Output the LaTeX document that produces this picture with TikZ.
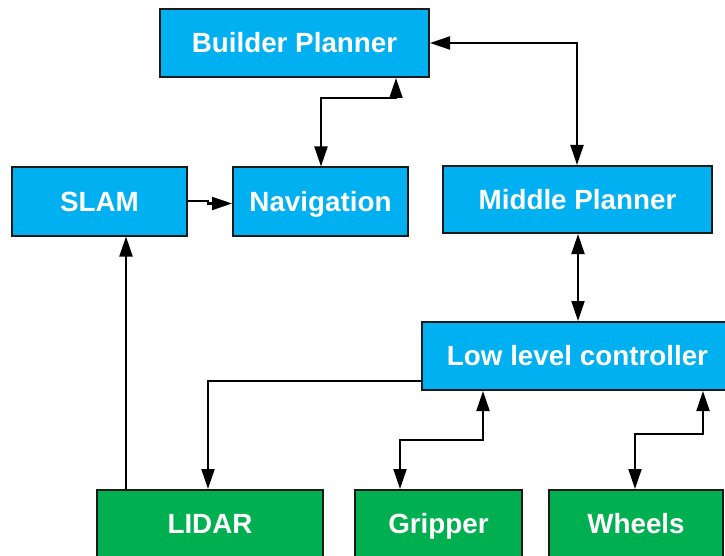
\documentclass[tikz,border=0pt]{standalone}
\usepackage{fontspec}
\setmainfont{Liberation Sans}
\usetikzlibrary{arrows.meta}
\definecolor{boxblue}{HTML}{00B0F0}
\definecolor{boxgreen}{HTML}{00B050}
\definecolor{edge}{HTML}{1A1A1A}
\tikzset{
  blk/.style={draw=edge, line width=2pt, text=white,
    font=\fontsize{27.8}{30}\selectfont\bfseries, inner sep=0pt,
    text height=19.8pt, text depth=0pt},
  soft/.style={blk, fill=boxblue},
  hard/.style={blk, fill=boxgreen},
  link/.style={line width=2pt, draw=black, -{Triangle[length=20pt,width=13pt]}},
  both/.style={link, {Triangle[length=20pt,width=13pt]}-{Triangle[length=20pt,width=13pt]}},
}
\begin{document}
\begin{tikzpicture}[x=1pt,y=-1pt]
\useasboundingbox (0,0) rectangle (725,556);
\clip (0,0) rectangle (725,556);
\fill[white] (0,0) rectangle (725,556);

% planning layer
\node[soft, minimum width=269pt, minimum height=68pt] (builder) at (294.5,43) {Builder Planner};
\node[soft, minimum width=175pt, minimum height=68pt] (slam)    at (99.5,201.5) {SLAM};
\node[soft, minimum width=175pt, minimum height=68pt] (nav)     at (320.5,201.5) {Navigation};
\node[soft, minimum width=269pt, minimum height=67pt] (middle)  at (577.5,199.5) {Middle Planner};
\node[soft, minimum width=311pt, minimum height=68pt] (llc)     at (577.5,356) {Low level controller};

% hardware layer
\node[hard, minimum width=226pt, minimum height=68pt] (lidar)   at (210,524) {LIDAR};
\node[hard, minimum width=167pt, minimum height=68pt] (gripper) at (438.5,524) {Gripper};
\node[hard, minimum width=174pt, minimum height=68pt] (wheels)  at (636,524) {Wheels};

% helper points
\coordinate (bnA) at (321,98);
\coordinate (bnB) at (396,98);
\coordinate (bmA) at (577,43);
\coordinate (snA) at (208,201.5);
\coordinate (snB) at (208,203.5);
\coordinate (llA) at (208,381);
\coordinate (lgA) at (483,440);
\coordinate (lgB) at (400,440);
\coordinate (lwA) at (703,434);
\coordinate (lwB) at (635,434);

% connectors
\draw[both] (builder.east |- bmA) -- (bmA) -- (middle.north -| bmA);
\draw[both] (nav.north -| bnA) -- (bnA) -- (bnB) -- (builder.south -| bnB);
\draw[link] (slam.east |- snA) -- (snA) -- (snB) -- (nav.west |- snB);
\draw[both] (middle.south -| 578,0) -- (llc.north -| 578,0);
\draw[link] (llc.west |- llA) -- (llA) -- (lidar.north -| llA);
\draw[link] (lidar.north -| 126,0) -- (slam.south -| 126,0);
\draw[both] (llc.south -| lgA) -- (lgA) -- (lgB) -- (gripper.north -| lgB);
\draw[both] (llc.south -| lwA) -- (lwA) -- (lwB) -- (wheels.north -| lwB);
\end{tikzpicture}
\end{document}
